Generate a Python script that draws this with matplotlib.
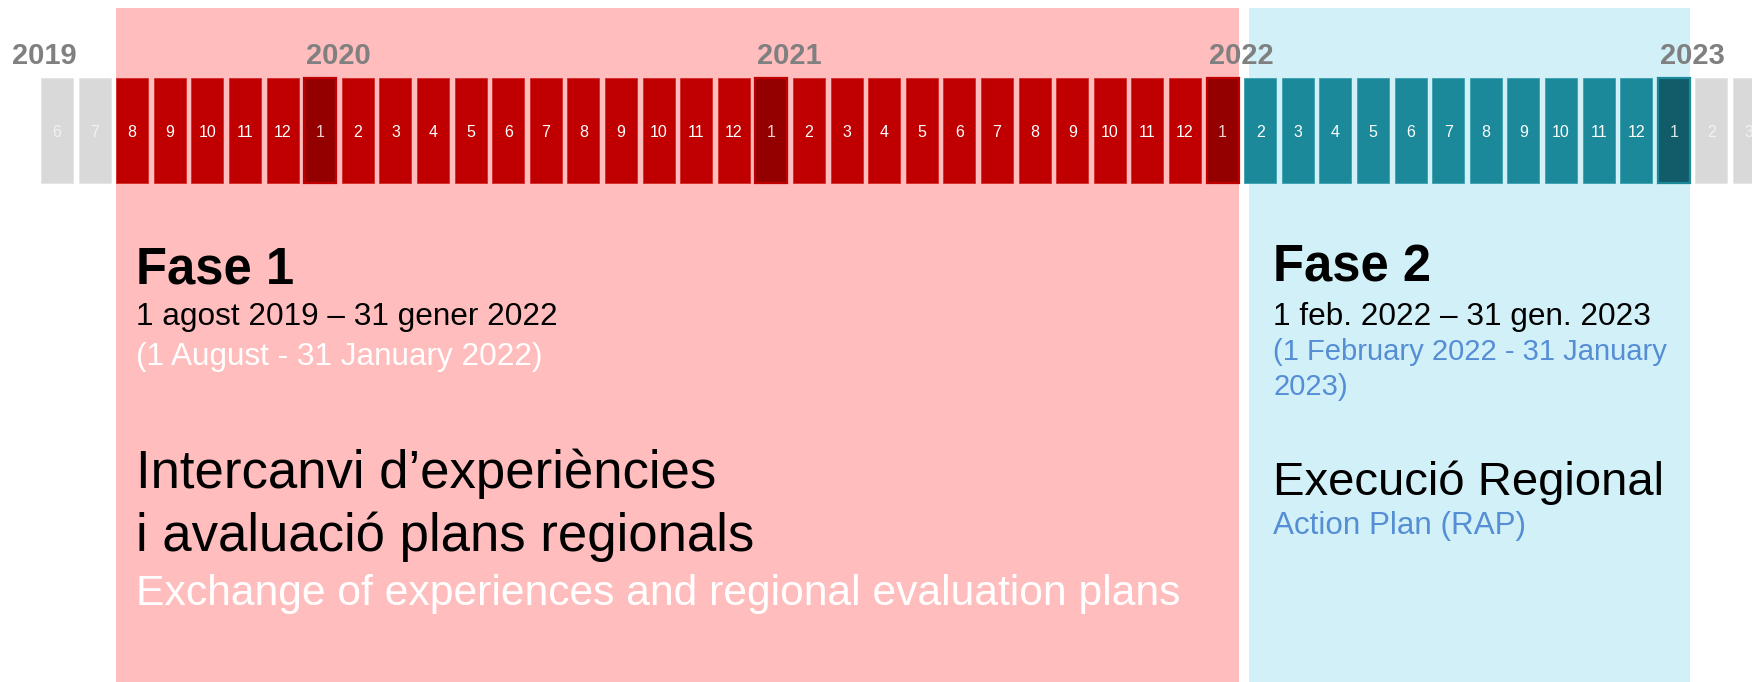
import matplotlib
matplotlib.use('Agg')
import matplotlib.pyplot as plt
from matplotlib.patches import Rectangle

plt.rcParams['font.family'] = ['Liberation Sans', 'DejaVu Sans']

# ---------------- data ----------------
years = [2019, 2020, 2021, 2022, 2023]
months_2019 = [6, 7, 8, 9, 10, 11, 12]
months_2020 = [1, 2, 3, 4, 5, 6, 7, 8, 9, 10, 11, 12]
months_2021 = [1, 2, 3, 4, 5, 6, 7, 8, 9, 10, 11, 12]
months_2022 = [1, 2, 3, 4, 5, 6, 7, 8, 9, 10, 11, 12]
months_2023 = [1, 2, 3]
months_by_year = [months_2019, months_2020, months_2021, months_2022, months_2023]

phase1_start = (2019, 8)
phase1_end = (2022, 1)
phase2_start = (2022, 2)
phase2_end = (2023, 1)

phase1_title = "Fase 1"
phase1_dates = "1 agost 2019 \u2013 31 gener 2022"
phase1_dates_en = "(1 August - 31 January 2022)"
phase1_desc = "Intercanvi d\u2019experi\u00e8ncies\ni avaluaci\u00f3 plans regionals"
phase1_desc_en = "Exchange of experiences and regional evaluation plans"

phase2_title = "Fase 2"
phase2_dates = "1 feb. 2022 \u2013 31 gen. 2023"
phase2_dates_en = "(1 February 2022 - 31 January\n2023)"
phase2_desc = "Execuci\u00f3 Regional"
phase2_desc_en = "Action Plan (RAP)"

# ---------------- styling ----------------
W, H = 1752, 682
PITCH = 37.6          # px per month
X0 = 41.0             # px of first box left edge
BOX_W = 32.0 / PITCH  # box width in month units
BOX_TOP, BOX_BOT = 78, 183

C_GRAY, C_GRAY_TXT = '#d9d9d9', '#f2f2f2'
C_RED, C_RED_DARK = '#c00000', '#940000'
C_TEAL, C_TEAL_DARK = '#1b899a', '#115c68'
C_PINK, C_BLUE = '#ffbdbd', '#d1f0f8'
C_YEAR = '#808080'
C_EN2 = '#558ed5'

fig = plt.figure(figsize=(W / 100, H / 100), dpi=100)
ax = fig.add_axes([0, 0, 1, 1])
ax.set_xlim(-X0 / PITCH, (W - X0) / PITCH)
ax.set_ylim(H, 0)
ax.axis('off')

# timeline
timeline = []
for y, ms in zip(years, months_by_year):
    for m in ms:
        timeline.append((y, m))
idx = {ym: i for i, ym in enumerate(timeline)}

p1a, p1b = idx[phase1_start], idx[phase1_end]
p2a, p2b = idx[phase2_start], idx[phase2_end]

# phase backgrounds
ax.add_patch(Rectangle((p1a, 8), (p1b + BOX_W) - p1a, H - 8, facecolor=C_PINK,
                       edgecolor='none', zorder=0))
blue_off = 5 / PITCH
ax.add_patch(Rectangle((p2a + blue_off, 8), (p2b + BOX_W) - (p2a + blue_off), H - 8,
                       facecolor=C_BLUE, edgecolor='none', zorder=0))

# month boxes
for i, (y, m) in enumerate(timeline):
    if p1a <= i <= p1b:
        fc = C_RED_DARK if m == 1 else C_RED
        ec = C_RED if m == 1 else '#d42a2a'
        lw = 1.6 if m == 1 else 0.6
        tc = '#ffffff' if m != 1 else '#f0d0d0'
    elif p2a <= i <= p2b:
        fc = C_TEAL_DARK if m == 1 else C_TEAL
        ec = C_TEAL if m == 1 else '#3aa0ae'
        lw = 1.6 if m == 1 else 0.6
        tc = '#ffffff' if m != 1 else '#d8e8ea'
    else:
        fc, ec, lw, tc = C_GRAY, '#e4e4e4', 0.6, C_GRAY_TXT
    ax.bar(i, BOX_BOT - BOX_TOP, bottom=BOX_TOP, width=BOX_W, align='edge',
           color=fc, edgecolor=ec, linewidth=lw, zorder=2)
    ax.text(i + BOX_W / 2, 137, str(m), ha='center', va='baseline',
            fontsize=11.5, color=tc, zorder=3)

# year labels
for y in years:
    if (y, 1) in idx:
        ax.text(idx[(y, 1)] + 2 / PITCH, 64, str(y), ha='left', va='baseline',
                fontsize=21, fontweight='bold', color=C_YEAR, zorder=3)
    else:
        ax.text((12 - X0) / PITCH, 64, str(y), ha='left', va='baseline',
                fontsize=21, fontweight='bold', color=C_YEAR, zorder=3)

# phase 1 texts
x1 = p1a + 20 / PITCH
ax.text(x1, 283, phase1_title, fontsize=36.5, fontweight='bold', color='black',
        va='baseline', ha='left')
ax.text(x1, 325, phase1_dates, fontsize=22.7, color='black', va='baseline', ha='left')
ax.text(x1, 365, phase1_dates_en, fontsize=22.7, color='white', va='baseline', ha='left')
l1, l2 = phase1_desc.split('\n')
ax.text(x1, 488, l1, fontsize=38, color='black', va='baseline', ha='left')
ax.text(x1, 551, l2, fontsize=38, color='black', va='baseline', ha='left')
ax.text(x1, 605, phase1_desc_en, fontsize=30.7, color='white', va='baseline', ha='left')

# phase 2 texts
x2 = p2a + 29 / PITCH
ax.text(x2, 282, phase2_title, fontsize=36.5, fontweight='bold', color='black',
        va='baseline', ha='left')
ax.text(x2, 325, phase2_dates, fontsize=22.7, color='black', va='baseline', ha='left')
e1, e2 = phase2_dates_en.split('\n')
ax.text(x2, 360, e1, fontsize=21, color=C_EN2, va='baseline', ha='left')
ax.text(x2, 395, e2, fontsize=21, color=C_EN2, va='baseline', ha='left')
ax.text(x2, 495, phase2_desc, fontsize=34, color='black', va='baseline', ha='left')
ax.text(x2, 534, phase2_desc_en, fontsize=22.6, color=C_EN2, va='baseline', ha='left')

fig.savefig('out.png', dpi=100, facecolor='white')
